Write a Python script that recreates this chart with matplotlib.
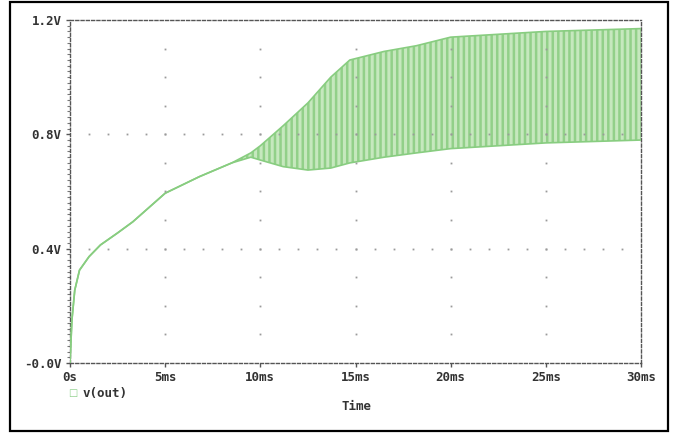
import numpy as np
import matplotlib
matplotlib.use('Agg')
import matplotlib.pyplot as plt
from matplotlib.patches import Rectangle

# envelope of v(out) (ms, V)
t_ms = [0, 0.1, 0.25, 0.5, 1.0, 1.6, 2.5, 3.3, 5.0, 6.8, 8.5, 9.5, 10.0,
        11.2, 12.5, 13.7, 14.7, 16.5, 18.2, 20.0, 22.5, 25.0, 27.5, 30.0]
v_upper = [0, 0.15, 0.255, 0.325, 0.372, 0.413, 0.455, 0.494, 0.594, 0.652, 0.70, 0.735, 0.76,
           0.83, 0.91, 1.00, 1.06, 1.09, 1.11, 1.14, 1.15, 1.16, 1.165, 1.17]
v_lower = [0, 0.15, 0.255, 0.325, 0.372, 0.413, 0.455, 0.494, 0.594, 0.652, 0.70, 0.72, 0.71,
           0.687, 0.675, 0.682, 0.70, 0.72, 0.735, 0.75, 0.76, 0.77, 0.775, 0.78]

x_ticks = [0, 5, 10, 15, 20, 25, 30]
x_labels = ['0s', '5ms', '10ms', '15ms', '20ms', '25ms', '30ms']
y_ticks = [0, 0.4, 0.8, 1.2]
y_labels = ['-0.0V', '0.4V', '0.8V', '1.2V']

plt.rcParams['hatch.linewidth'] = 1.8
font = dict(family='DejaVu Sans Mono', weight='bold', size=9, color='#333333')

fig = plt.figure(figsize=(6.76, 4.34), dpi=100)
ax = fig.add_axes([70 / 676, 1 - 363 / 434, 571 / 676, 343 / 434])

# oscillating band
ax.fill_between(t_ms, v_lower, v_upper, facecolor='#c6e8be', edgecolor='#92d089',
                hatch='|||', linewidth=0, zorder=2)
ax.plot(t_ms, v_upper, color='#88cd80', lw=1.2, zorder=3)
ax.plot(t_ms, v_lower, color='#88cd80', lw=1.2, zorder=3)

ax.set_xlim(0, 30)
ax.set_ylim(0, 1.2)

# dotted grid (dots at the minor steps along each major line)
dot_kw = dict(ls='none', marker='s', ms=1.3, color='#9a9a9a', mew=0, zorder=4)
for x in x_ticks[1:-1]:
    ys = np.arange(0.1, 1.2, 0.1)
    ax.plot(np.full_like(ys, x), ys, **dot_kw)
for y in y_ticks[1:-1]:
    xs = np.arange(1, 30, 1)
    ax.plot(xs, np.full_like(xs, y, dtype=float), **dot_kw)

for s in ax.spines.values():
    s.set_linestyle((0, (2.2, 1.6)))
    s.set_color('#555555')
    s.set_linewidth(1.0)

ax.set_xticks(x_ticks)
ax.set_xticklabels(x_labels, **font)
ax.set_yticks(y_ticks)
ax.set_yticklabels(y_labels, **font)
ax.set_yticks(np.arange(0, 1.2, 0.02), minor=True)
ax.tick_params(axis='both', which='major', length=3, width=1, color='#555555', pad=3)
ax.tick_params(axis='y', which='minor', length=2, width=0.8, color='#777777')

# legend and axis title like the simulator output
fig.text(73 / 676, 1 - 393 / 434, '\u25a1', color='#8fd08b', fontsize=7, ha='center', va='center')
fig.text(83 / 676, 1 - 393 / 434, 'v(out)', va='center', ha='left', **font)
fig.text(357 / 676, 1 - 407 / 434, 'Time', va='center', ha='center', **font)

# outer frame
fig.patches.append(Rectangle((10 / 676, 1 - 431 / 434), 658 / 676, 429 / 434,
                             transform=fig.transFigure, fill=False, ec='black', lw=1.6))

fig.savefig('out.png', dpi=100)
